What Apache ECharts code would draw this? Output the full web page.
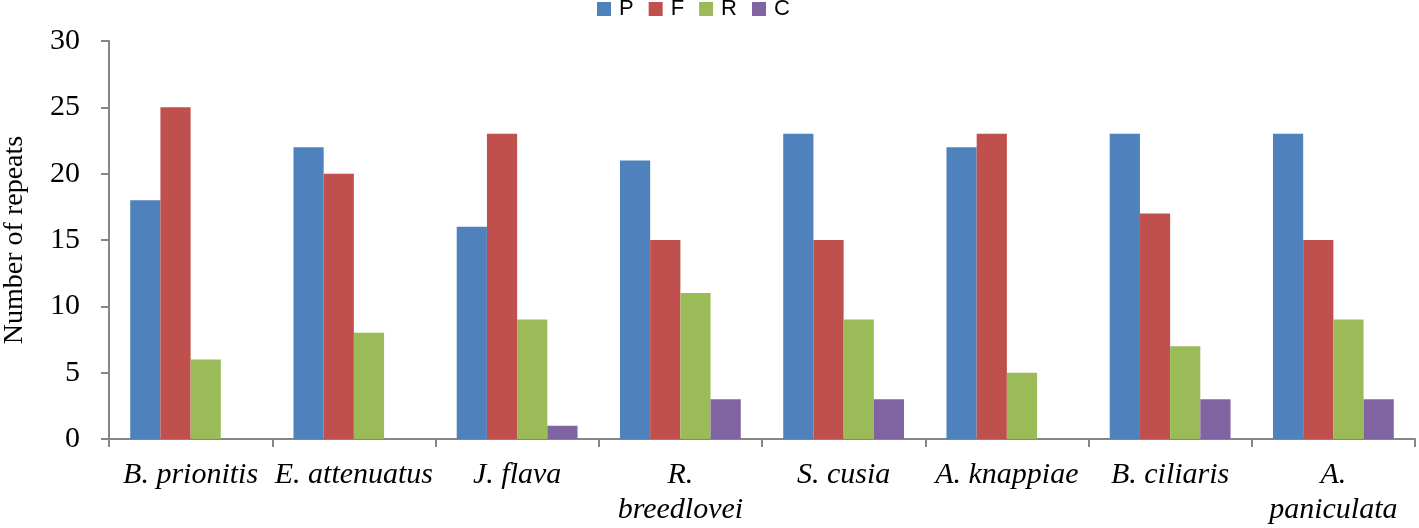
<!DOCTYPE html>
<html>
<head>
<meta charset="utf-8">
<script src="https://cdn.jsdelivr.net/npm/echarts@6/dist/echarts.min.js"></script>
<style>html,body{margin:0;padding:0;background:#fff;}#c{width:1419px;height:528px;}</style>
</head>
<body>
<div id="c"></div>
<script>
const categories = ['B. prionitis', 'E. attenuatus', 'J. flava', 'R. breedlovei', 'S. cusia', 'A. knappiae', 'B. ciliaris', 'A. paniculata'];
const tickLabels = ['B. prionitis', 'E. attenuatus', 'J. flava', 'R.\nbreedlovei', 'S. cusia', 'A. knappiae', 'B. ciliaris', 'A.\npaniculata'];
const seriesNames = ['P', 'F', 'R', 'C'];
const P = [18, 22, 16, 21, 23, 22, 23, 23];
const F = [25, 20, 23, 15, 15, 23, 17, 15];
const R = [6, 8, 9, 11, 9, 5, 7, 9];
const C = [0, 0, 1, 3, 3, 0, 3, 3];
const yTicks = [0, 5, 10, 15, 20, 25, 30];
const colors = ['#4F81BD', '#C0504D', '#9BBB59', '#8064A2'];

const values = [P, F, R, C];
const chart = echarts.init(document.getElementById('c'), null, {renderer: 'canvas'});
const serif = '"Liberation Serif", "Times New Roman", serif';
chart.setOption({
  animation: false,
  color: colors,
  legend: {
    top: -2, left: 597, padding: 0,
    itemWidth: 14, itemHeight: 14, itemGap: 15,
    icon: 'rect',
    textStyle: {fontSize: 22, fontFamily: '"Liberation Sans", Arial, sans-serif', color: '#000', padding: [0, 0, 0, 3]},
    data: seriesNames
  },
  grid: {left: 109, right: 4, top: 41, bottom: 89, containLabel: false, outerBoundsMode: 'none'},
  xAxis: {
    type: 'category',
    data: categories,
    axisLine: {lineStyle: {color: '#868686', width: 2}},
    axisTick: {show: true, length: 8, alignWithLabel: false, lineStyle: {color: '#868686', width: 2}},
    axisLabel: {
      interval: 0, margin: 19, fontSize: 30, fontStyle: 'italic', fontFamily: serif, color: '#000', lineHeight: 35,
      formatter: (v, i) => tickLabels[i]
    }
  },
  yAxis: {
    type: 'value', min: yTicks[0], max: yTicks[yTicks.length - 1], interval: 5,
    name: 'Number of repeats', nameLocation: 'middle', nameGap: 80,
    nameTextStyle: {fontSize: 28, fontFamily: serif, color: '#000'},
    axisLine: {show: true, lineStyle: {color: '#868686', width: 2}},
    axisTick: {show: true, length: 8, lineStyle: {color: '#868686', width: 2}},
    splitLine: {show: false},
    axisLabel: {margin: 29, fontSize: 30, fontFamily: serif, color: '#000'}
  },
  series: seriesNames.map((n, i) => ({
    name: n, type: 'bar', data: values[i],
    barGap: '0%', barCategoryGap: '26%',
    itemStyle: {color: colors[i]}
  }))
});
</script>
</body>
</html>
